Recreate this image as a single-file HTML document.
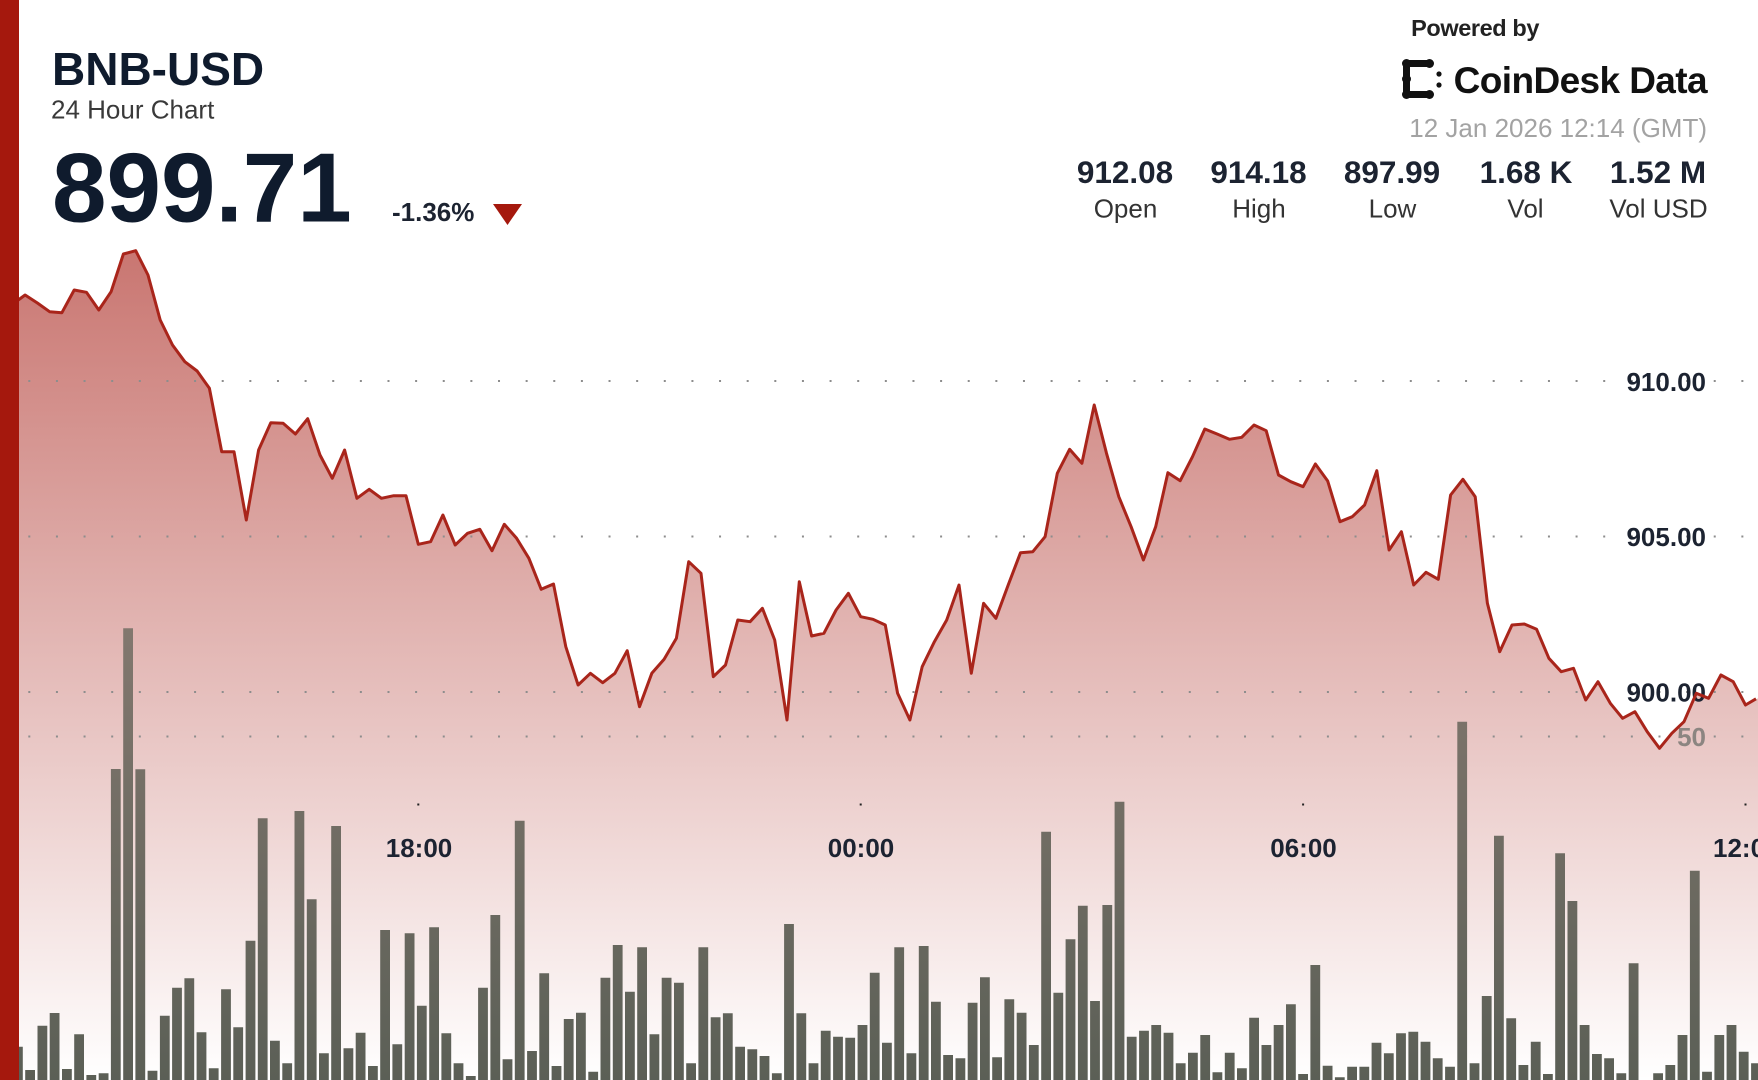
<!DOCTYPE html>
<html>
<head>
<meta charset="utf-8">
<style>
html,body{margin:0;padding:0;background:#fff;}
body{width:1758px;height:1080px;overflow:hidden;}
svg{display:block;}
text{font-family:"Liberation Sans",Arial,sans-serif;}
</style>
</head>
<body>
<svg width="1758" height="1080" viewBox="0 0 1758 1080" xmlns="http://www.w3.org/2000/svg">
<defs>
<linearGradient id="fillg" gradientUnits="userSpaceOnUse" x1="0" y1="250" x2="0" y2="1080">
<stop offset="0" stop-color="#a8221a" stop-opacity="0.62"/>
<stop offset="1" stop-color="#a8221a" stop-opacity="0"/>
</linearGradient>
<linearGradient id="barg" gradientUnits="userSpaceOnUse" x1="0" y1="620" x2="0" y2="1080">
<stop offset="0" stop-color="#83786f"/>
<stop offset="1" stop-color="#5b5f56"/>
</linearGradient>
<clipPath id="rclip"><rect x="0" y="0" width="1758" height="1080"/></clipPath>
</defs>
<rect width="1758" height="1080" fill="#fff"/>

<path fill="url(#fillg)" d="M0,298 L0.5,298 L12.8,304 L25.1,295 L37.4,303 L49.6,311.7 L61.9,312.7 L74.2,290 L86.5,292.3 L98.8,310 L111.1,291.7 L123.4,254 L135.7,250.7 L148,275 L160.2,320 L172.5,345 L184.8,361.7 L197.1,371 L209.4,388.3 L221.7,451.7 L234,451.7 L246.3,520 L258.6,450 L270.8,422.7 L283.1,423.3 L295.4,434 L307.7,418.7 L320,455 L332.3,478.3 L344.6,450 L356.9,498.3 L369.2,489.3 L381.4,498.3 L393.7,495.7 L406,495.7 L418.3,544.3 L430.6,541.7 L442.9,515 L455.2,545 L467.5,533.3 L479.8,529.3 L492,550.7 L504.3,524.3 L516.6,538.3 L528.9,558.3 L541.2,589.3 L553.5,584 L565.8,646.7 L578.1,685 L590.4,673.3 L602.7,682.7 L614.9,673.3 L627.2,650.7 L639.5,706.7 L651.8,673.3 L664.1,659.3 L676.4,638.3 L688.7,561.7 L701,573.3 L713.3,676.7 L725.5,665 L737.8,620 L750.1,621.7 L762.4,608.3 L774.7,640 L787,720 L799.3,581.7 L811.6,636 L823.9,633.3 L836.1,610 L848.4,593.3 L860.7,616.7 L873,619.3 L885.3,625 L897.6,693.3 L909.9,720 L922.2,666.7 L934.4,641.7 L946.7,620 L959,585 L971.3,673.3 L983.6,603.3 L995.9,618.3 L1008.2,585 L1020.5,552.7 L1032.8,551.7 L1045.1,536.7 L1057.3,473.3 L1069.6,449.3 L1081.9,463.3 L1094.2,405 L1106.5,453.3 L1118.8,496.7 L1131.1,526.7 L1143.4,560 L1155.7,526.7 L1167.9,472.7 L1180.2,480.7 L1192.5,456.7 L1204.8,429 L1217.1,434 L1229.4,439.3 L1241.7,437.3 L1254,425 L1266.2,430.7 L1278.5,475 L1290.8,481.7 L1303.1,486.7 L1315.4,464 L1327.7,481 L1340,521.7 L1352.3,516.7 L1364.6,505 L1376.8,470.7 L1389.1,550 L1401.4,531.7 L1413.7,585 L1426,572.3 L1438.3,579.3 L1450.6,495 L1462.9,479.3 L1475.2,496.7 L1487.4,603.3 L1499.7,651.7 L1512,625 L1524.3,624 L1536.6,629.3 L1548.9,658.3 L1561.2,671.7 L1573.5,668.3 L1585.7,700 L1598,681.7 L1610.3,703.3 L1622.6,718.3 L1634.9,711.7 L1647.2,731.7 L1659.5,748.3 L1671.8,733.3 L1684,721.7 L1696.3,693.3 L1708.6,698.3 L1720.9,675 L1733.2,681.7 L1745.5,705 L1758,698.3 L1758,1080 L0,1080 Z"/>

<g stroke="#8d8d8d" stroke-width="2" stroke-dasharray="2 25.63">
<line x1="28.3" y1="381" x2="1758" y2="381"/>
<line x1="28.3" y1="536.5" x2="1758" y2="536.5"/>
<line x1="28.3" y1="692" x2="1758" y2="692"/>
<line x1="28.3" y1="736.5" x2="1758" y2="736.5"/>
</g>

<path fill="url(#barg)" d="M13,1046.7h9.8V1080h-9.8z M25.2,1070h9.8V1080h-9.8z M37.5,1025.7h9.8V1080h-9.8z M49.7,1013h9.8V1080h-9.8z M62,1069h9.8V1080h-9.8z M74.2,1034.3h9.8V1080h-9.8z M86.4,1075h9.8V1080h-9.8z M98.7,1073.3h9.8V1080h-9.8z M110.9,769h9.8V1080h-9.8z M123.2,628.3h9.8V1080h-9.8z M135.4,769.3h9.8V1080h-9.8z M147.6,1070.7h9.8V1080h-9.8z M159.9,1015.7h9.8V1080h-9.8z M172.1,987.7h9.8V1080h-9.8z M184.4,978.3h9.8V1080h-9.8z M196.6,1032.3h9.8V1080h-9.8z M208.8,1068.3h9.8V1080h-9.8z M221.1,989.3h9.8V1080h-9.8z M233.3,1027.3h9.8V1080h-9.8z M245.6,940.7h9.8V1080h-9.8z M257.8,818.3h9.8V1080h-9.8z M270,1040.7h9.8V1080h-9.8z M282.3,1063.3h9.8V1080h-9.8z M294.5,811h9.8V1080h-9.8z M306.8,899.3h9.8V1080h-9.8z M319,1053.3h9.8V1080h-9.8z M331.2,826h9.8V1080h-9.8z M343.5,1048.3h9.8V1080h-9.8z M355.7,1032.7h9.8V1080h-9.8z M368,1066h9.8V1080h-9.8z M380.2,930h9.8V1080h-9.8z M392.4,1044.3h9.8V1080h-9.8z M404.7,933.3h9.8V1080h-9.8z M416.9,1005.7h9.8V1080h-9.8z M429.2,927.3h9.8V1080h-9.8z M441.4,1033.3h9.8V1080h-9.8z M453.6,1063.3h9.8V1080h-9.8z M465.9,1076h9.8V1080h-9.8z M478.1,987.7h9.8V1080h-9.8z M490.4,915h9.8V1080h-9.8z M502.6,1059.3h9.8V1080h-9.8z M514.8,820.7h9.8V1080h-9.8z M527.1,1051h9.8V1080h-9.8z M539.3,973.3h9.8V1080h-9.8z M551.6,1066h9.8V1080h-9.8z M563.8,1019h9.8V1080h-9.8z M576,1012.7h9.8V1080h-9.8z M588.3,1071.7h9.8V1080h-9.8z M600.5,977.7h9.8V1080h-9.8z M612.8,945h9.8V1080h-9.8z M625,991.7h9.8V1080h-9.8z M637.2,947.3h9.8V1080h-9.8z M649.5,1034.3h9.8V1080h-9.8z M661.7,977.7h9.8V1080h-9.8z M674,982.7h9.8V1080h-9.8z M686.2,1063.3h9.8V1080h-9.8z M698.4,947.3h9.8V1080h-9.8z M710.7,1017.3h9.8V1080h-9.8z M722.9,1013.3h9.8V1080h-9.8z M735.2,1046.7h9.8V1080h-9.8z M747.4,1049.3h9.8V1080h-9.8z M759.6,1056h9.8V1080h-9.8z M771.9,1073.3h9.8V1080h-9.8z M784.1,924h9.8V1080h-9.8z M796.4,1013.3h9.8V1080h-9.8z M808.6,1063.3h9.8V1080h-9.8z M820.8,1030.7h9.8V1080h-9.8z M833.1,1036.7h9.8V1080h-9.8z M845.3,1037.7h9.8V1080h-9.8z M857.6,1025h9.8V1080h-9.8z M869.8,972.7h9.8V1080h-9.8z M882,1042.7h9.8V1080h-9.8z M894.3,947.3h9.8V1080h-9.8z M906.5,1053.3h9.8V1080h-9.8z M918.8,946h9.8V1080h-9.8z M931,1001.7h9.8V1080h-9.8z M943.2,1055h9.8V1080h-9.8z M955.5,1058.3h9.8V1080h-9.8z M967.7,1002.7h9.8V1080h-9.8z M980,977.3h9.8V1080h-9.8z M992.2,1057.3h9.8V1080h-9.8z M1004.4,999.3h9.8V1080h-9.8z M1016.7,1012.7h9.8V1080h-9.8z M1028.9,1045h9.8V1080h-9.8z M1041.2,831.7h9.8V1080h-9.8z M1053.4,992.7h9.8V1080h-9.8z M1065.6,939.3h9.8V1080h-9.8z M1077.9,905.7h9.8V1080h-9.8z M1090.1,1001h9.8V1080h-9.8z M1102.4,905h9.8V1080h-9.8z M1114.6,801.7h9.8V1080h-9.8z M1126.8,1036.7h9.8V1080h-9.8z M1139.1,1030.7h9.8V1080h-9.8z M1151.3,1025h9.8V1080h-9.8z M1163.6,1032.7h9.8V1080h-9.8z M1175.8,1063.3h9.8V1080h-9.8z M1188,1052.7h9.8V1080h-9.8z M1200.3,1035h9.8V1080h-9.8z M1212.5,1072.3h9.8V1080h-9.8z M1224.8,1052.7h9.8V1080h-9.8z M1237,1068.3h9.8V1080h-9.8z M1249.2,1017.7h9.8V1080h-9.8z M1261.5,1045h9.8V1080h-9.8z M1273.7,1025h9.8V1080h-9.8z M1286,1004.3h9.8V1080h-9.8z M1298.2,1074h9.8V1080h-9.8z M1310.4,965h9.8V1080h-9.8z M1322.7,1065.7h9.8V1080h-9.8z M1334.9,1077.3h9.8V1080h-9.8z M1347.2,1066.7h9.8V1080h-9.8z M1359.4,1066.7h9.8V1080h-9.8z M1371.6,1042.7h9.8V1080h-9.8z M1383.9,1053.3h9.8V1080h-9.8z M1396.1,1033.3h9.8V1080h-9.8z M1408.4,1031.7h9.8V1080h-9.8z M1420.6,1041.7h9.8V1080h-9.8z M1432.8,1058.3h9.8V1080h-9.8z M1445.1,1066.7h9.8V1080h-9.8z M1457.3,721.7h9.8V1080h-9.8z M1469.6,1063.3h9.8V1080h-9.8z M1481.8,996h9.8V1080h-9.8z M1494,835.7h9.8V1080h-9.8z M1506.3,1018.3h9.8V1080h-9.8z M1518.5,1065h9.8V1080h-9.8z M1530.8,1041.7h9.8V1080h-9.8z M1543,1074h9.8V1080h-9.8z M1555.2,853.3h9.8V1080h-9.8z M1567.5,901h9.8V1080h-9.8z M1579.7,1025h9.8V1080h-9.8z M1592,1054h9.8V1080h-9.8z M1604.2,1058.3h9.8V1080h-9.8z M1616.4,1073.3h9.8V1080h-9.8z M1628.7,963.3h9.8V1080h-9.8z M1653.2,1073.3h9.8V1080h-9.8z M1665.4,1065h9.8V1080h-9.8z M1677.6,1035h9.8V1080h-9.8z M1689.9,870.7h9.8V1080h-9.8z M1702.1,1071.7h9.8V1080h-9.8z M1714.4,1035h9.8V1080h-9.8z M1726.6,1025h9.8V1080h-9.8z M1738.8,1051.7h9.8V1080h-9.8z M1751.1,1063.3h6.9V1080h-6.9z"/>

<g font-weight="bold" font-size="26" fill="#1c2331" text-anchor="end">
<text x="1706" y="391">910.00</text>
<text x="1706" y="546">905.00</text>
<text x="1706" y="701.5">900.00</text>
</g>
<text x="1706" y="746" font-weight="bold" font-size="26" fill="#8c8581" text-anchor="end">50</text>

<g fill="#222">
<rect x="417.3" y="803.5" width="2" height="2"/>
<rect x="859.7" y="803.5" width="2" height="2"/>
<rect x="1302.1" y="803.5" width="2" height="2"/>
<rect x="1744.5" y="803.5" width="2" height="2"/>
</g>
<g font-weight="bold" font-size="26" fill="#1c2331" text-anchor="middle">
<text x="419" y="857">18:00</text>
<text x="861" y="857">00:00</text>
<text x="1303.5" y="857">06:00</text>
</g>
<text x="1713" y="857" font-weight="bold" font-size="26" fill="#1c2331" clip-path="url(#rclip)">12:0</text>

<path fill="none" stroke="#a9251b" stroke-width="3" stroke-linejoin="round" d="M0,298 L0.5,298 L12.8,304 L25.1,295 L37.4,303 L49.6,311.7 L61.9,312.7 L74.2,290 L86.5,292.3 L98.8,310 L111.1,291.7 L123.4,254 L135.7,250.7 L148,275 L160.2,320 L172.5,345 L184.8,361.7 L197.1,371 L209.4,388.3 L221.7,451.7 L234,451.7 L246.3,520 L258.6,450 L270.8,422.7 L283.1,423.3 L295.4,434 L307.7,418.7 L320,455 L332.3,478.3 L344.6,450 L356.9,498.3 L369.2,489.3 L381.4,498.3 L393.7,495.7 L406,495.7 L418.3,544.3 L430.6,541.7 L442.9,515 L455.2,545 L467.5,533.3 L479.8,529.3 L492,550.7 L504.3,524.3 L516.6,538.3 L528.9,558.3 L541.2,589.3 L553.5,584 L565.8,646.7 L578.1,685 L590.4,673.3 L602.7,682.7 L614.9,673.3 L627.2,650.7 L639.5,706.7 L651.8,673.3 L664.1,659.3 L676.4,638.3 L688.7,561.7 L701,573.3 L713.3,676.7 L725.5,665 L737.8,620 L750.1,621.7 L762.4,608.3 L774.7,640 L787,720 L799.3,581.7 L811.6,636 L823.9,633.3 L836.1,610 L848.4,593.3 L860.7,616.7 L873,619.3 L885.3,625 L897.6,693.3 L909.9,720 L922.2,666.7 L934.4,641.7 L946.7,620 L959,585 L971.3,673.3 L983.6,603.3 L995.9,618.3 L1008.2,585 L1020.5,552.7 L1032.8,551.7 L1045.1,536.7 L1057.3,473.3 L1069.6,449.3 L1081.9,463.3 L1094.2,405 L1106.5,453.3 L1118.8,496.7 L1131.1,526.7 L1143.4,560 L1155.7,526.7 L1167.9,472.7 L1180.2,480.7 L1192.5,456.7 L1204.8,429 L1217.1,434 L1229.4,439.3 L1241.7,437.3 L1254,425 L1266.2,430.7 L1278.5,475 L1290.8,481.7 L1303.1,486.7 L1315.4,464 L1327.7,481 L1340,521.7 L1352.3,516.7 L1364.6,505 L1376.8,470.7 L1389.1,550 L1401.4,531.7 L1413.7,585 L1426,572.3 L1438.3,579.3 L1450.6,495 L1462.9,479.3 L1475.2,496.7 L1487.4,603.3 L1499.7,651.7 L1512,625 L1524.3,624 L1536.6,629.3 L1548.9,658.3 L1561.2,671.7 L1573.5,668.3 L1585.7,700 L1598,681.7 L1610.3,703.3 L1622.6,718.3 L1634.9,711.7 L1647.2,731.7 L1659.5,748.3 L1671.8,733.3 L1684,721.7 L1696.3,693.3 L1708.6,698.3 L1720.9,675 L1733.2,681.7 L1745.5,705 L1756,698.8"/>

<rect x="0" y="0" width="19" height="1080" fill="#a5180d"/>

<text x="52" y="85" font-size="46" font-weight="bold" fill="#0f1b2d">BNB-USD</text>
<text x="51" y="118.5" font-size="26" fill="#3a3a3a">24 Hour Chart</text>
<text x="52" y="221.5" font-size="98" font-weight="bold" fill="#0f1b2d">899.71</text>
<text x="392" y="221" font-size="26" font-weight="bold" fill="#1c2331">-1.36%</text>
<polygon points="493,204 522,204 507.5,225" fill="#a5180d"/>

<text x="1539" y="36" font-size="23.5" font-weight="bold" fill="#222" text-anchor="end" letter-spacing="-0.4">Powered by</text>
<g fill="#111">
<rect x="1403" y="60" width="7" height="38" rx="3.5"/>
<rect x="1403" y="60" width="30" height="7" rx="3.5"/>
<rect x="1403" y="91" width="30" height="7" rx="3.5"/>
<circle cx="1406.5" cy="63.5" r="4.5"/>
<circle cx="1406.5" cy="94.5" r="4.5"/>
<circle cx="1429.5" cy="63.5" r="4.5"/>
<circle cx="1429.5" cy="94.5" r="4.5"/>
<circle cx="1406.5" cy="79" r="4.5"/>
<circle cx="1439" cy="74" r="2.6"/>
<circle cx="1439" cy="85" r="2.6"/>
</g>
<text x="1707" y="93" font-size="37" font-weight="bold" fill="#111" text-anchor="end" letter-spacing="-0.6">CoinDesk Data</text>
<text x="1707" y="137" font-size="26" fill="#a3a3a3" text-anchor="end">12 Jan 2026 12:14 (GMT)</text>

<g font-size="31.5" font-weight="bold" fill="#1c2331" text-anchor="middle">
<text x="1125" y="183">912.08</text>
<text x="1258.5" y="183">914.18</text>
<text x="1392" y="183">897.99</text>
<text x="1526" y="183">1.68 K</text>
<text x="1658" y="183">1.52 M</text>
</g>
<g font-size="26" fill="#333" text-anchor="middle">
<text x="1125.5" y="217.5">Open</text>
<text x="1259" y="217.5">High</text>
<text x="1392.5" y="217.5">Low</text>
<text x="1525.5" y="217.5">Vol</text>
<text x="1658.5" y="217.5">Vol USD</text>
</g>
</svg>
</body>
</html>
